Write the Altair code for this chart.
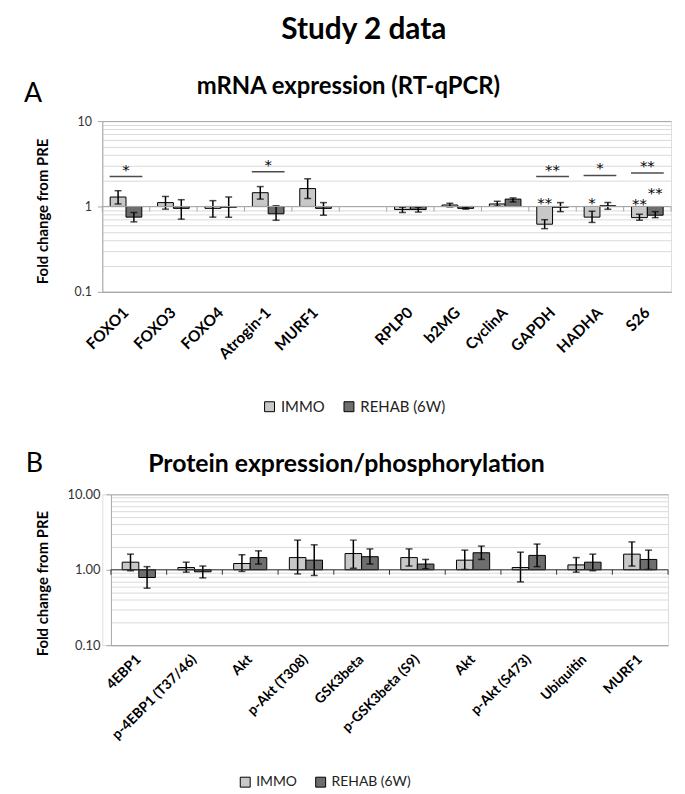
import altair as alt
import pandas as pd

FONT = "Lato"
STAR_FONT = "DejaVu Sans"
SERIES = ["IMMO", "REHAB (6W)"]
COLORS = ["#c8c8c8", "#6e6e6e"]

main_title = "Study 2 data"
a_letter = "A"
b_letter = "B"
a_title = "mRNA expression (RT-qPCR)"
b_title = "Protein expression/phosphorylation"
y_title = "Fold change from PRE"

# ---- Panel A : mRNA expression ----
a_slots = ["FOXO1", "FOXO3", "FOXO4", "Atrogin-1", "MURF1", " ",
           "RPLP0", "b2MG", "CyclinA", "GAPDH", "HADHA", "S26"]
a_genes = ["FOXO1", "FOXO3", "FOXO4", "Atrogin-1", "MURF1",
           "RPLP0", "b2MG", "CyclinA", "GAPDH", "HADHA", "S26"]
a_immo = [1.29, 1.11, 0.95, 1.45, 1.62, 0.92, 1.04, 1.07, 0.62, 0.75, 0.74]
a_immo_lo = [1.07, 0.93, 0.75, 1.22, 1.24, 0.85, 0.99, 1.01, 0.55, 0.65, 0.69]
a_immo_hi = [1.53, 1.31, 1.17, 1.71, 2.11, 0.98, 1.09, 1.15, 0.70, 0.88, 0.81]
a_rehab = [0.75, 0.95, 0.98, 0.82, 0.95, 0.92, 0.95, 1.22, 0.98, 1.02, 0.79]
a_rehab_lo = [0.66, 0.71, 0.75, 0.69, 0.79, 0.86, 0.93, 1.13, 0.87, 0.93, 0.74]
a_rehab_hi = [0.85, 1.20, 1.29, 1.02, 1.11, 0.98, 0.98, 1.26, 1.11, 1.11, 0.87]

# significance brackets (IMMO vs REHAB)
a_sig_cats = ["FOXO1", "Atrogin-1", "GAPDH", "HADHA", "S26"]
a_sig_line = [2.25, 2.55, 2.25, 2.31, 2.47]
a_sig_text = ["*", "*", "**", "*", "**"]
a_sig_text_y = [2.94, 3.36, 2.98, 3.16, 3.27]
# stars over single bars (vs PRE)
a_bar_star_cats = ["GAPDH", "HADHA", "S26", "S26"]
a_bar_star_series = ["IMMO", "IMMO", "IMMO", "REHAB (6W)"]
a_bar_star_text = ["**", "*", "**", "**"]
a_bar_star_y = [1.23, 1.23, 1.18, 1.60]

# ---- Panel B : protein expression ----
b_slots = ["4EBP1", "p-4EBP1 (T37/46)", "Akt", "p-Akt (T308)", "GSK3beta",
           "p-GSK3beta (S9)", "Akt ", "p-Akt (S473)", "Ubiquitin", "MURF1"]
b_immo = [1.26, 1.07, 1.21, 1.45, 1.64, 1.45, 1.34, 1.07, 1.16, 1.61]
b_immo_lo = [0.97, 0.93, 0.95, 0.88, 1.05, 1.12, 1.01, 0.69, 0.93, 1.12]
b_immo_hi = [1.61, 1.26, 1.58, 2.47, 2.47, 1.89, 1.82, 1.71, 1.45, 2.34]
b_rehab = [0.79, 0.94, 1.45, 1.34, 1.49, 1.19, 1.68, 1.55, 1.26, 1.37]
b_rehab_lo = [0.57, 0.78, 1.19, 0.84, 1.19, 1.03, 1.37, 1.10, 0.97, 1.01]
b_rehab_hi = [1.10, 1.12, 1.78, 2.14, 1.89, 1.37, 2.06, 2.19, 1.61, 1.82]

# ---- y axis ticks ----
y_ticks = [0.1, 0.2, 0.3, 0.4, 0.5, 0.6, 0.7, 0.8, 0.9,
           1, 2, 3, 4, 5, 6, 7, 8, 9, 10]
y_major = [0.1, 1, 10]
a_major_labels = ["0.1", "1", "10"]
b_major_labels = ["0.10", "1.00", "10.00"]


def long_df(cats, immo, immo_lo, immo_hi, rehab, rehab_lo, rehab_hi):
    rows = []
    for i, c in enumerate(cats):
        rows.append(dict(cat=c, series=SERIES[0], value=immo[i], lo=immo_lo[i], hi=immo_hi[i]))
        rows.append(dict(cat=c, series=SERIES[1], value=rehab[i], lo=rehab_lo[i], hi=rehab_hi[i]))
    return pd.DataFrame(rows)


def label_expr(majors, labels):
    parts = " : ".join(f"datum.value == {m} ? '{l}'" for m, l in zip(majors, labels))
    return parts + " : ''"


def text_layer(txt, x, y, size, weight="normal", align="center", baseline="alphabetic", angle=0):
    return alt.Chart(pd.DataFrame({"t": [txt]})).mark_text(
        font=FONT, fontSize=size, fontWeight=weight, align=align, baseline=baseline,
        angle=angle, color="black"
    ).encode(text="t:N", x=alt.value(x), y=alt.value(y))


def panel(df, slots, width, height, x0, bar_pad, axis_color, major_labels, ylab_size,
          xlab_size, xlab_pad, legend_xy, legend_size, texts, sig=None, barstars=None):
    step = (width - x0) / len(slots)
    major_test = " || ".join(f"datum.value == {m}" for m in [y_major[0], y_major[-1]])
    major_any = " || ".join(f"datum.value == {m}" for m in y_major)
    x_enc = alt.X("cat:N", scale=alt.Scale(domain=slots, paddingInner=0, paddingOuter=0,
                                           range=[x0, width]),
                  axis=alt.Axis(title=None, labelAngle=-45, labelAlign="right", labelBaseline="middle",
                                labelFont=FONT, labelFontSize=xlab_size, labelFontWeight="bold",
                                labelColor="black", labelPadding=xlab_pad, ticks=False,
                                domainColor="#a6a6a6", domainWidth=1, grid=False, labelLimit=300))
    y_scale = alt.Scale(type="log", domain=[0.1, 10])
    y_axis = alt.Axis(title=None, values=y_ticks, labelExpr=label_expr(y_major, major_labels),
                      labelFont=FONT, labelFontSize=ylab_size, labelColor="#333333", labelPadding=6,
                      grid=True, gridWidth=1, offset=-x0,
                      gridColor={"condition": {"test": major_test, "value": "#a6a6a6"}, "value": "#dadada"},
                      tickSize=5, tickColor="#a6a6a6",
                      tickOpacity={"condition": {"test": major_any, "value": 1}, "value": 0},
                      domainColor="#a6a6a6", domainWidth=1)
    xo_enc = alt.XOffset("series:N", scale=alt.Scale(domain=SERIES, paddingOuter=bar_pad, paddingInner=0))

    def Y(field):
        return alt.Y(field, scale=y_scale, axis=y_axis)

    bars = alt.Chart(df).mark_bar(stroke="black", strokeWidth=1).encode(
        x=x_enc, xOffset=xo_enc, y=Y("value:Q"), y2=alt.datum(1),
        color=alt.Color("series:N", scale=alt.Scale(domain=SERIES, range=COLORS),
                        legend=alt.Legend(orient="none", legendX=legend_xy[0], legendY=legend_xy[1],
                                          direction="horizontal", title=None, symbolType="square",
                                          symbolSize=100, symbolStrokeColor="black", symbolStrokeWidth=1,
                                          labelFont=FONT, labelFontSize=legend_size, labelColor="#222222",
                                          columnPadding=16, labelOffset=4)))
    err = alt.Chart(df).mark_rule(color="black", strokeWidth=1.5).encode(
        x=x_enc, xOffset=xo_enc, y=Y("lo:Q"), y2="hi:Q")
    cap_hi = alt.Chart(df).mark_tick(color="black", size=7, thickness=1.5).encode(
        x=x_enc, xOffset=xo_enc, y=Y("hi:Q"))
    cap_lo = alt.Chart(df).mark_tick(color="black", size=7, thickness=1.5).encode(
        x=x_enc, xOffset=xo_enc, y=Y("lo:Q"))
    base = alt.Chart(pd.DataFrame({"v": [1]})).mark_rule(color=axis_color, strokeWidth=1).encode(
        y=alt.datum(1), x=alt.value(x0), x2=alt.value(width))
    ticks_df = pd.DataFrame({"cat": slots})
    btick = alt.Chart(ticks_df).mark_rule(color=axis_color, strokeWidth=1, xOffset=-step / 2,
                                          y2Offset=5).encode(x=x_enc, y=alt.datum(1), y2=alt.datum(1))
    etick = alt.Chart(pd.DataFrame({"cat": [slots[-1]]})).mark_rule(
        color=axis_color, strokeWidth=1, xOffset=step / 2, y2Offset=5).encode(
        x=x_enc, y=alt.datum(1), y2=alt.datum(1))
    layers = [bars, err, cap_hi, cap_lo, base, btick, etick]
    if sig is not None:
        sdf = pd.DataFrame({"cat": sig[0], "line": sig[1], "txt": sig[2], "ty": sig[3]})
        layers.append(alt.Chart(sdf).mark_tick(color="black", size=33, thickness=1.5).encode(
            x=x_enc, y=Y("line:Q")))
        layers.append(alt.Chart(sdf).mark_text(font=STAR_FONT, fontSize=15,
                                               baseline="middle", dy=4, fill="black").encode(
            x=x_enc, y=Y("ty:Q"), text="txt:N"))
    if barstars is not None:
        bdf = pd.DataFrame({"cat": barstars[0], "series": barstars[1], "txt": barstars[2],
                            "ty": barstars[3]})
        layers.append(alt.Chart(bdf).mark_text(font=STAR_FONT, fontSize=15,
                                               baseline="middle", dy=4, fill="black").encode(
            x=x_enc, xOffset=xo_enc, y=Y("ty:Q"), text="txt:N"))
    layers += texts
    return alt.layer(*layers).properties(width=width, height=height)


df_a = long_df(a_genes, a_immo, a_immo_lo, a_immo_hi, a_rehab, a_rehab_lo, a_rehab_hi)
df_b = long_df(b_slots, b_immo, b_immo_lo, b_immo_hi, b_rehab, b_rehab_lo, b_rehab_hi)

texts_a = [
    text_layer(main_title, 263.5, -83, 30, "bold"),
    text_layer(a_letter, -79, -19, 27, "normal", align="left"),
    text_layer(a_title, 248, -27, 24, "bold"),
    text_layer(y_title, -60, 91, 15, "bold", baseline="middle", angle=270),
]
texts_b = [
    text_layer(b_letter, -77, -22.3, 27, "normal", align="left"),
    text_layer(b_title, 246, -22.3, 25, "bold"),
    text_layer(y_title, -60, 90, 15, "bold", baseline="middle", angle=270),
]

chart_a = panel(df_a, a_slots, 573, 172, 0, 0.5, "#a6a6a6", a_major_labels, 12.5,
                15.5, 18, (161, 280), 15, texts_a,
                sig=(a_sig_cats, a_sig_line, a_sig_text, a_sig_text_y),
                barstars=(a_bar_star_cats, a_bar_star_series, a_bar_star_text, a_bar_star_y))
chart_b = panel(df_b, b_slots, 570, 152, 8.7, 0.68, "#333333", b_major_labels, 13,
                14, 12, (137, 283), 14, texts_b)

chart = alt.vconcat(chart_a, chart_b, spacing=34).resolve_scale(
    x="independent", y="independent", color="independent", xOffset="independent"
).resolve_legend(color="independent").properties(
    padding={"left": 15, "top": 3, "right": 5, "bottom": 5}
).configure_view(stroke=None).configure(font=FONT)

chart.save("out.html", embed_options={"renderer": "svg", "actions": False})
